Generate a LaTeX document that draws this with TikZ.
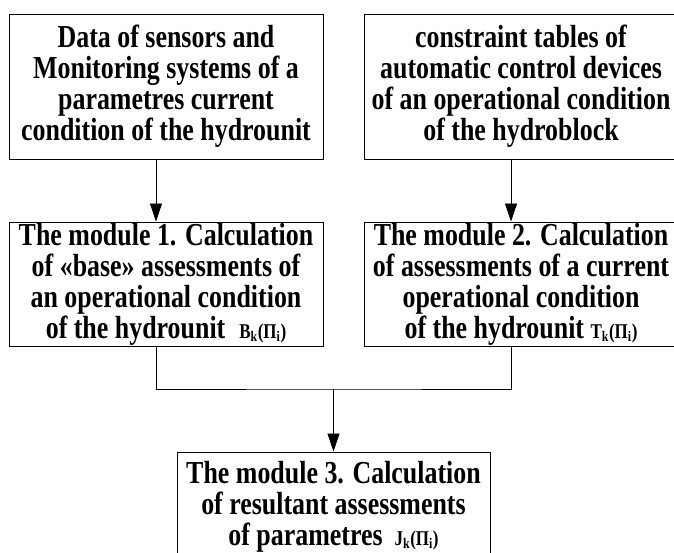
\documentclass[tikz,border=0pt]{standalone}
\usepackage{fontspec}
\setmainfont{Liberation Serif}[FakeStretch=0.81]
\usetikzlibrary{arrows.meta}
\tikzset{
  block/.style={draw, line width=1pt, minimum width=314pt, inner sep=0pt,
    align=center, font=\fontsize{32}{31}\selectfont\bfseries},
  arr/.style={-{Triangle[length=18pt,width=12pt]}, line width=0.8pt},
}
\newcommand{\assess}[1]{{\fontsize{21}{21}\selectfont #1\textsubscript{k}(П\textsubscript{i})}}

\begin{document}
\begin{tikzpicture}[x=1pt,y=-1pt]
\useasboundingbox (0,0) rectangle (674,552);
% sources
\node[block, minimum height=145pt] (sensors) at (166,86.5)
  {Data of sensors and\\Monitoring systems of a\\parametres current\\condition of the hydrounit};
\node[block, minimum height=145pt] (tables) at (521,86.5)
  {constraint tables of\\automatic control devices\\of an operational condition\\of the hydroblock};
% modules
\node[block, minimum height=124pt] (mod1) at (166,284)
  {The module 1. Calculation\\of «base» assessments of\\an operational condition\\of the hydrounit\hspace{14pt}\assess{B}};
\node[block, minimum height=124pt] (mod2) at (521,284)
  {The module 2. Calculation\\of assessments of a current\\operational condition\\of the hydrounit \assess{T}};
\node[block, minimum width=313pt, minimum height=110pt] (mod3) at (333.5,507)
  {The module 3. Calculation\\of resultant assessments\\of parametres\hspace{12pt}\assess{J}};
% connectors
\coordinate (left) at (156,0);
\coordinate (right) at (511,0);
\coordinate (join) at (333.5,389);
\draw[arr] (left |- sensors.south) -- (left |- mod1.north);
\draw[arr] (right |- tables.south) -- (right |- mod2.north);
\draw[line width=0.8pt] (left |- mod1.south) |- (join) -| (right |- mod2.south);
\draw[arr] (join) -- (mod3.north);
\end{tikzpicture}
\end{document}
